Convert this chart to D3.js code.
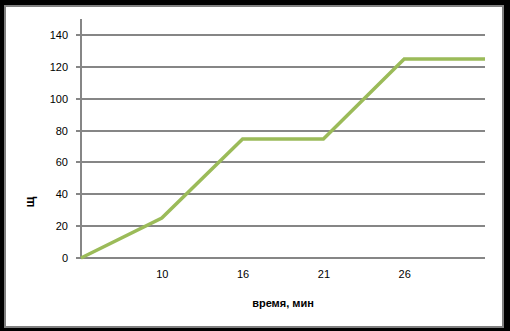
<!DOCTYPE html>
<html>
<head>
<meta charset="utf-8">
<script src="https://cdn.jsdelivr.net/npm/d3@7"></script>
<style>
  html, body { margin: 0; padding: 0; background: #000; }
  svg { display: block; }
  text { font-family: "Liberation Sans", Arial, sans-serif; }
</style>
</head>
<body>
<div id="chart"></div>
<script>
// Data
const categories = ['', '10', '16', '21', '26', ''];
const values = [0, 25, 75, 75, 125, 125];
const yTicks = [0, 20, 40, 60, 80, 100, 120, 140];
const xTitle = 'время, мин';
const yTitle = 'щ';

const width = 510;
const height = 331;
const margin = { top: 19, right: 25, bottom: 73, left: 81 };

const svg = d3.select('#chart').append('svg')
  .attr('width', width)
  .attr('height', height);

svg.append('rect')
  .attr('width', width)
  .attr('height', height)
  .attr('fill', '#000');

// Chart area
svg.append('rect')
  .attr('x', 5)
  .attr('y', 6)
  .attr('width', 498)
  .attr('height', 321)
  .attr('fill', '#fff')
  .attr('stroke', '#808080')
  .attr('stroke-width', 2);

const x = d3.scalePoint()
  .domain(d3.range(categories.length))
  .range([margin.left, width - margin.right]);

const y = d3.scaleLinear()
  .domain([0, 150])
  .range([height - margin.bottom, margin.top])
  .interpolate(d3.interpolateRound);

const gray = '#868686';

// Gridlines
svg.append('g')
  .selectAll('line')
  .data(yTicks)
  .join('line')
  .attr('x1', x(0))
  .attr('x2', x(categories.length - 1))
  .attr('y1', d => y(d))
  .attr('y2', d => y(d))
  .attr('stroke', gray)
  .attr('stroke-width', 2);

// Y axis
const yAxis = svg.append('g')
  .attr('transform', `translate(${x(0)},0)`)
  .call(d3.axisLeft(y).tickValues(yTicks).tickSize(5).tickPadding(8).tickSizeOuter(0).offset(0));
yAxis.select('.domain').attr('stroke', gray).attr('stroke-width', 2);
yAxis.selectAll('.tick line').attr('stroke', gray).attr('stroke-width', 2);
yAxis.selectAll('.tick text')
  .attr('fill', '#000')
  .style('font-size', '11px');

// X axis
const xAxis = svg.append('g')
  .attr('transform', `translate(0,${y(0)})`)
  .call(d3.axisBottom(x).tickFormat(i => categories[i]).tickSize(0).tickPadding(12));
xAxis.select('.domain').remove();
xAxis.selectAll('.tick text')
  .attr('fill', '#000')
  .style('font-size', '11px');
svg.append('line')
  .attr('x1', x(0))
  .attr('x2', x(categories.length - 1))
  .attr('y1', y(0))
  .attr('y2', y(0))
  .attr('stroke', gray)
  .attr('stroke-width', 2);

// Line
const line = d3.line()
  .x((d, i) => x(i))
  .y(d => y(d));

svg.append('path')
  .datum(values)
  .attr('fill', 'none')
  .attr('stroke', '#9BBB59')
  .attr('stroke-width', 3.5)
  .attr('stroke-linejoin', 'miter')
  .attr('d', line);

// Titles
svg.append('text')
  .attr('x', 283)
  .attr('y', 307)
  .attr('text-anchor', 'middle')
  .style('font-size', '11px')
  .style('font-weight', 'bold')
  .text(xTitle);

svg.append('text')
  .attr('transform', 'translate(34,202) rotate(-90)')
  .attr('text-anchor', 'middle')
  .style('font-size', '13px')
  .style('font-weight', 'bold')
  .text(yTitle);
</script>
</body>
</html>
